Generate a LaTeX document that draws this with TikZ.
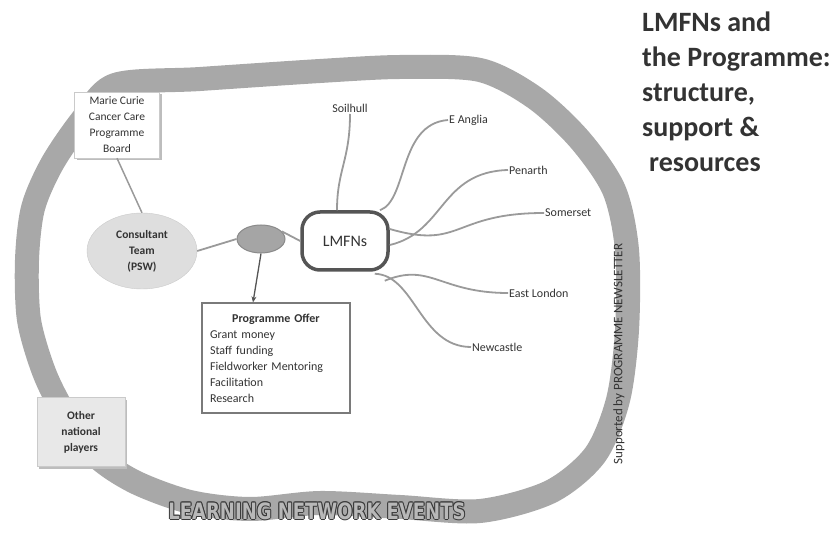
\documentclass[tikz,border=0pt]{standalone}
\usepackage{fontspec}
\setmainfont{Carlito}
\newfontfamily\dvs{DejaVu Sans}
\usetikzlibrary{shapes.geometric,arrows.meta}
\definecolor{band}{HTML}{A8A8A8}
\definecolor{txt}{HTML}{333333}
\definecolor{branch}{HTML}{9A9A9A}
\definecolor{ctfill}{HTML}{DEDEDE}
\definecolor{ctdraw}{HTML}{CACACA}
\definecolor{sefill}{HTML}{A5A5A5}
\definecolor{sedraw}{HTML}{8A8A8A}
\definecolor{lmborder}{HTML}{555555}
\definecolor{boxdraw}{HTML}{7A7A7A}
\definecolor{shadowc}{HTML}{BDBDBD}
\definecolor{letfill}{HTML}{B8B8B8}
\definecolor{letline}{HTML}{3A3A3A}
\tikzset{
  smalltxt/.style={font=\fontsize{11.5}{16}\selectfont, text=txt, align=center},
  boldtxt/.style={font=\bfseries\fontsize{11.5}{16}\selectfont, text=txt, align=center},
  branchline/.style={draw=branch, line width=1.8pt},
  branchlabel/.style={font=\fontsize{12}{14}\selectfont, text=txt, inner sep=1pt},
  linkline/.style={draw=branch, line width=1.8pt},
  evtxt/.style={font=\dvs\bfseries\fontsize{18}{20}\selectfont, yscale=1.25, inner sep=0},
}
\begin{document}
\begin{tikzpicture}[x=1pt,y=-1pt]
\useasboundingbox (0,0) rectangle (838,534);
% ring band
\draw[band, line width=24pt] plot[smooth cycle, tension=0.5] coordinates {(115,85) (200,79) (320,71) (400,67) (480,70) (535,98) (580,140) (614,190) (627,250) (627,330) (618,400) (595,455) (550,492) (480,511) (400,507) (320,503) (250,509) (190,502) (135,482) (95,455) (64,412) (44,372) (29,320) (27,260) (33,208) (52,164) (82,120)};
% title
\node[anchor=north west, align=left, font=\bfseries\fontsize{28}{35}\selectfont, text=txt, inner sep=0] (title) at (642,12)
  {LMFNs and\\the Programme:\\structure,\\support \&\\\hspace{0.25em}resources};
% Marie Curie box
\fill[shadowc] (77,94) rectangle (162,160);
\node[smalltxt, draw=ctdraw, fill=white, minimum width=85pt, minimum height=66pt, inner sep=1pt] (mc) at (117,125)
  {Marie Curie\\Cancer Care\\Programme\\Board};
% Other national players
\fill[shadowc] (39,400) rectangle (127,469);
\node[boldtxt, draw=ctdraw, fill=ctfill!70!white, minimum width=88pt, minimum height=69pt, inner sep=1pt] (onp) at (81,432)
  {Other\\national\\players};
% consultant team
\node[ellipse, boldtxt, draw=ctdraw, fill=ctfill, minimum width=110pt, minimum height=76pt, inner sep=0] (ct) at (142,251)
  {Consultant\\Team\\(PSW)};
% small ellipse
\node[ellipse, draw=sedraw, fill=sefill, line width=1pt, minimum width=48pt, minimum height=28pt, inner sep=0] (se) at (261,239) {};
% LMFNs
\node[draw=lmborder, line width=3.5pt, rounded corners=18pt, fill=white, minimum width=86pt, minimum height=58pt,
      font=\fontsize{16}{18}\selectfont, text=txt] (lm) at (345,241) {LMFNs};
% programme offer
\node[draw=boxdraw, line width=1.2pt, fill=white, text width=132pt, inner xsep=8pt, inner ysep=6pt, minimum height=110pt,
      align=left, font=\fontsize{12}{16}\selectfont, text=txt] (po) at (276,358)
  {\makebox[\linewidth][c]{\bfseries Programme Offer}\\Grant money\\Staff funding\\Fieldworker Mentoring\\Facilitation\\Research};
% connectors
\draw[linkline, line width=1.5pt] (mc.south) -- (ct.north);
\draw[linkline] (ct.east) -- (se.west);
\draw[linkline] (se.20) -- (lm.west);
\draw[draw=lmborder, line width=1.3pt, -{Stealth[length=6pt,width=5pt]}] (se.south) -- ([xshift=-23pt]po.north);
% branch labels
\node[branchlabel, anchor=south] (soil) at (350,114) {Soilhull};
\node[branchlabel, anchor=west] (ea) at (448,120) {E Anglia};
\node[branchlabel, anchor=west] (pen) at (508,170) {Penarth};
\node[branchlabel, anchor=west] (som) at (544,213) {Somerset};
\node[branchlabel, anchor=west] (el) at (508,293) {East London};
\node[branchlabel, anchor=west] (nc) at (471,347) {Newcastle};
% branches
\draw[branchline] ([xshift=-8pt]lm.north) .. controls (337,170) and (350,160) .. (soil.south);
\draw[branchline] ([xshift=35pt]lm.north) .. controls (408,200) and (398,124) .. (ea.west);
\draw[branchline] ([yshift=-4pt]lm.east) .. controls (445,232) and (440,172) .. (pen.west);
\draw[branchline] ([yshift=12pt]lm.east) .. controls (462,250) and (452,213) .. (som.west);
\draw[branchline] ([xshift=-5pt,yshift=-9pt]lm.south east) .. controls (430,262) and (440,293) .. (el.west);
\draw[branchline] ([xshift=-15pt,yshift=-2pt]lm.south east) .. controls (415,275) and (420,347) .. (nc.west);
% vertical text
\node[rotate=90, font=\fontsize{13}{15}\selectfont, text=txt, inner sep=0] (nl) at (619,354) {Supported by PROGRAMME NEWSLETTER};
% learning network events (outlined lettering)
\foreach \dx/\dy [count=\k] in {-1/0,1/0,0/-1,0/1,-0.7/-0.7,0.7/0.7,-0.7/0.7,0.7/-0.7}{
  \node[evtxt, text=letline] (lneo\k) at ([xshift=\dx pt,yshift=\dy pt]317,511) {LEARNING NETWORK EVENTS};
}
\node[evtxt, text=letfill] (lne) at (317,511) {LEARNING NETWORK EVENTS};
\end{tikzpicture}
\end{document}
